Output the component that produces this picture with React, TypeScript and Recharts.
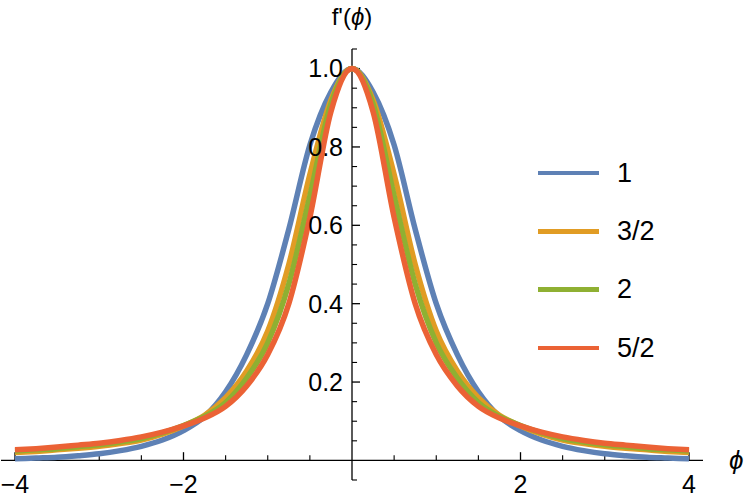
import React from 'react'
import { LineChart, Line, XAxis, YAxis, ReferenceLine, ReferenceDot, Legend } from 'recharts'

// phi sample points at 0.25 steps
const phi = [
  -4, -3.75, -3.5, -3.25, -3, -2.75, -2.5, -2.25, -2, -1.75, -1.5, -1.25, -1, -0.75, -0.5, -0.25,
  0, 0.25, 0.5, 0.75, 1, 1.25, 1.5, 1.75, 2, 2.25, 2.5, 2.75, 3, 3.25, 3.5, 3.75, 4,
]

const s1 = [
  0.004, 0.006, 0.008, 0.012, 0.017, 0.025, 0.036, 0.052, 0.076, 0.112, 0.175, 0.27, 0.4, 0.59, 0.805, 0.94,
  1, 0.94, 0.805, 0.59, 0.4, 0.27, 0.175, 0.112, 0.076, 0.052, 0.036, 0.025, 0.017, 0.012, 0.008, 0.006, 0.004,
]
const s32 = [
  0.02, 0.023, 0.027, 0.031, 0.036, 0.043, 0.052, 0.067, 0.088, 0.115, 0.16, 0.228, 0.33, 0.5, 0.73, 0.92,
  1, 0.92, 0.73, 0.5, 0.33, 0.228, 0.16, 0.115, 0.088, 0.067, 0.052, 0.043, 0.036, 0.031, 0.027, 0.023, 0.02,
]
const s2 = [
  0.024, 0.027, 0.03, 0.035, 0.04, 0.047, 0.056, 0.07, 0.089, 0.112, 0.148, 0.21, 0.3, 0.45, 0.675, 0.91,
  1, 0.91, 0.675, 0.45, 0.3, 0.21, 0.148, 0.112, 0.089, 0.07, 0.056, 0.047, 0.04, 0.035, 0.03, 0.027, 0.024,
]
const s52 = [
  0.027, 0.03, 0.034, 0.039, 0.044, 0.051, 0.06, 0.072, 0.088, 0.108, 0.138, 0.19, 0.27, 0.4, 0.62, 0.89,
  1, 0.89, 0.62, 0.4, 0.27, 0.19, 0.138, 0.108, 0.088, 0.072, 0.06, 0.051, 0.044, 0.039, 0.034, 0.03, 0.027,
]

const seriesNames = ['1', '3/2', '2', '5/2']
const seriesColors = ['#5E81B5', '#E19C24', '#8FB032', '#EB6235']

const xMajorTicks = [-4, -2, 2, 4]
const xMinorTicks = [-3.5, -3, -2.5, -1.5, -1, -0.5, 0.5, 1, 1.5, 2.5, 3, 3.5]
const yMajorTicks = [0.2, 0.4, 0.6, 0.8, 1.0]
const yMinorTicks = [-0.05, 0.05, 0.1, 0.15, 0.25, 0.3, 0.35, 0.45, 0.5, 0.55, 0.65, 0.7, 0.75, 0.85, 0.9, 0.95, 1.05]
const xTickLabels = ['\u22124', '\u22122', '2', '4']
const yTickLabels = ['0.2', '0.4', '0.6', '0.8', '1.0']

const data = phi.map((p, i) => ({ phi: p, a: s1[i], b: s32[i], c: s2[i], d: s52[i] }))

const FONT = '"Liberation Sans", Arial, sans-serif'

function LegendBox(props: any) {
  const items = [...(props.payload || [])].sort(
    (p: any, q: any) => seriesNames.indexOf(p.value) - seriesNames.indexOf(q.value)
  )
  return (
    <div style={{ fontFamily: FONT }}>
      {items.map((it: any) => (
        <div key={it.value} style={{ height: 58.3, display: 'flex', alignItems: 'center' }}>
          <div style={{ width: 61, height: 4.5, background: it.color, marginRight: 18 }} />
          <span style={{ fontSize: 27, color: '#000', lineHeight: 1 }}>{it.value}</span>
        </div>
      ))}
    </div>
  )
}

const yTitle = (p: any) => {
  const vb = p.viewBox
  return (
    <text x={vb.x} y={25} textAnchor="middle" fontSize={24} fontFamily={FONT} fill="#000">
      f'(<tspan fontStyle="italic">ϕ</tspan>)
    </text>
  )
}

const xTitle = (p: any) => {
  const vb = p.viewBox
  return (
    <text x={vb.x + 26} y={vb.y + 9} fontSize={26} fontStyle="italic" fontFamily={FONT} fill="#000">
      ϕ
    </text>
  )
}

export default function App() {
  return (
    <div style={{ position: 'absolute', left: 0, top: 0, width: 747, height: 501, background: '#fff' }}>
      <LineChart width={747} height={501} data={data} margin={{ top: 49, right: 44, bottom: 21, left: 1 }}>
        <XAxis type="number" dataKey="phi" domain={[-4.166, 4.166]} allowDataOverflow hide />
        <YAxis type="number" domain={[-0.05, 1.05]} allowDataOverflow hide />

        <ReferenceLine y={0} stroke="#000" strokeWidth={1.3} />
        <ReferenceLine segment={[{ x: 0, y: -0.05 }, { x: 0, y: 1.05 }]} stroke="#000" strokeWidth={1.3} />

        {xMajorTicks.map(t => (
          <ReferenceLine key={'xM' + t} segment={[{ x: t, y: 0 }, { x: t, y: 0.021 }]} stroke="#000" strokeWidth={1.3} />
        ))}
        {xMinorTicks.map(t => (
          <ReferenceLine key={'xm' + t} segment={[{ x: t, y: 0 }, { x: t, y: 0.013 }]} stroke="#000" strokeWidth={1.1} />
        ))}
        {yMajorTicks.map(t => (
          <ReferenceLine key={'yM' + t} segment={[{ x: 0, y: t }, { x: 0.095, y: t }]} stroke="#000" strokeWidth={1.3} />
        ))}
        {yMinorTicks.map(t => (
          <ReferenceLine key={'ym' + t} segment={[{ x: 0, y: t }, { x: 0.06, y: t }]} stroke="#000" strokeWidth={1.1} />
        ))}

        <Line dataKey="a" name={seriesNames[0]} stroke={seriesColors[0]} strokeWidth={5.5} type="monotone" dot={false} isAnimationActive={false} />
        <Line dataKey="b" name={seriesNames[1]} stroke={seriesColors[1]} strokeWidth={5.5} type="monotone" dot={false} isAnimationActive={false} />
        <Line dataKey="c" name={seriesNames[2]} stroke={seriesColors[2]} strokeWidth={5.5} type="monotone" dot={false} isAnimationActive={false} />
        <Line dataKey="d" name={seriesNames[3]} stroke={seriesColors[3]} strokeWidth={5.5} type="monotone" dot={false} isAnimationActive={false} />

        {xMajorTicks.map((t, i) => (
          <ReferenceDot key={'xl' + t} x={t} y={0} r={0} stroke="none" fill="none"
            label={{ value: xTickLabels[i], position: 'bottom', offset: 15, fontSize: 25, fill: '#000', fontFamily: FONT }} />
        ))}
        {yMajorTicks.map((t, i) => (
          <ReferenceDot key={'yl' + t} x={0} y={t} r={0} stroke="none" fill="none"
            label={{ value: yTickLabels[i], position: 'left', offset: 9, fontSize: 25, fill: '#000', fontFamily: FONT }} />
        ))}
        <ReferenceDot x={0} y={1.05} r={0} stroke="none" fill="none" label={yTitle} />
        <ReferenceDot x={4.166} y={0} r={0} stroke="none" fill="none" label={xTitle} />

        <Legend layout="vertical" verticalAlign="middle" align="center" content={LegendBox}
          wrapperStyle={{ left: 538, top: 144, width: 160 }} />
      </LineChart>
    </div>
  )
}
